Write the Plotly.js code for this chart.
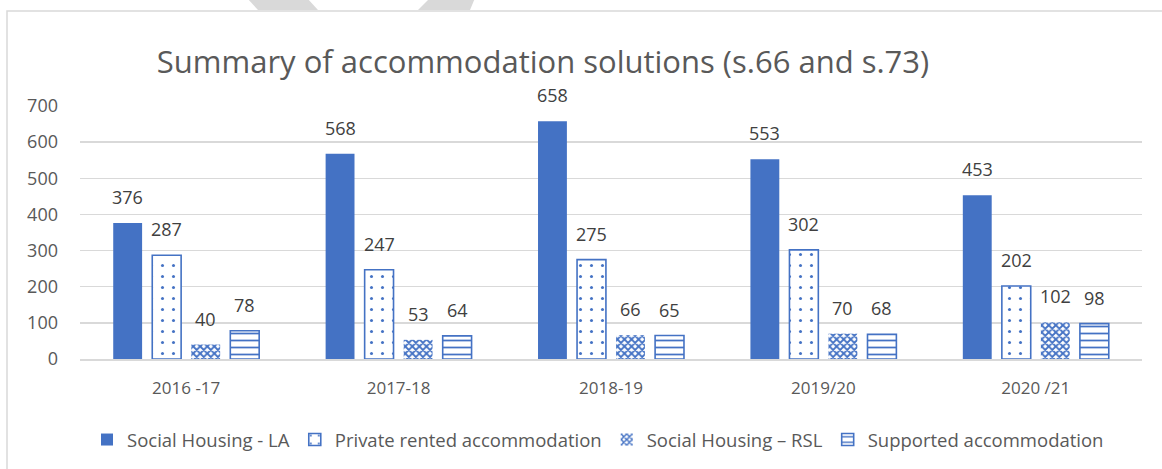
<!DOCTYPE html>
<html>
<head>
<meta charset="utf-8">
<script src="https://cdn.plot.ly/plotly-3.0.1.min.js"></script>
<style>html,body{margin:0;padding:0;background:#fff;}#chart{width:1162px;height:469px;}</style>
</head>
<body>
<div id="chart"></div>
<script>
const categories = ["2016 -17", "2017-18", "2018-19", "2019/20", "2020 /21"];
const seriesNames = ["Social Housing - LA", "Private rented accommodation", "Social Housing \u2013 RSL", "Supported accommodation"];
const socialHousingLA = [376, 568, 658, 553, 453];
const privateRented = [287, 247, 275, 302, 202];
const socialHousingRSL = [40, 53, 66, 70, 102];
const supported = [78, 64, 65, 68, 98];
const yTicks = [0, 100, 200, 300, 400, 500, 600, 700];

const BLUE = '#4472C4';
const seriesValues = [socialHousingLA, privateRented, socialHousingRSL, supported];
const markers = [
  {color: BLUE, line: {color: BLUE, width: 0}},
  {color: '#ffffff', line: {color: BLUE, width: 1.6}, pattern: {shape: '.', fgcolor: BLUE, bgcolor: '#ffffff', fgopacity: 1, size: 11, solidity: 0.06, fillmode: 'overlay'}},
  {color: '#ffffff', line: {color: BLUE, width: 0}, pattern: {shape: 'x', fgcolor: BLUE, bgcolor: '#ffffff', fgopacity: 1, size: 5, solidity: 0.6, fillmode: 'overlay'}},
  {color: '#ffffff', line: {color: BLUE, width: 1.6}, pattern: {shape: '-', fgcolor: BLUE, bgcolor: '#ffffff', fgopacity: 1, size: 7, solidity: 0.25, fillmode: 'overlay'}}
];

const traces = seriesValues.map((vals, i) => ({
  type: 'bar', name: seriesNames[i], x: categories, y: vals,
  marker: markers[i], hoverinfo: 'skip'
}));

// data labels as annotations above each bar
const slot = 39; // px per bar slot within a group
const annotations = [];
seriesValues.forEach((vals, i) => {
  vals.forEach((v, j) => {
    annotations.push({
      x: categories[j], y: v, xref: 'x', yref: 'y', text: String(v), showarrow: false,
      xanchor: 'center', yanchor: 'bottom', xshift: (i - 1.5) * slot, yshift: 12,
      font: {family: 'Open Sans, sans-serif', size: 18, color: '#404040'}
    });
  });
});

const px = v => (v - 80) / 1062;
const py = v => (359 - v) / 253;
const shapes = [
  {type: 'path', xref: 'paper', yref: 'paper', layer: 'below',
   path: `M ${px(247)} ${py(-2)} L ${px(307)} ${py(-2)} L ${px(318)} ${py(10)} L ${px(258)} ${py(10)} Z`,
   fillcolor: '#d9d9d9', line: {width: 0}},
  {type: 'path', xref: 'paper', yref: 'paper', layer: 'below',
   path: `M ${px(430)} ${py(-2)} L ${px(475)} ${py(-2)} L ${px(470)} ${py(10)} L ${px(418)} ${py(10)} Z`,
   fillcolor: '#d9d9d9', line: {width: 0}},
  {type: 'rect', xref: 'paper', yref: 'paper', layer: 'below',
   x0: px(7), x1: px(1175), y0: py(11), y1: py(490),
   fillcolor: 'rgba(0,0,0,0)', line: {color: '#d9d9d9', width: 1.5}}
];

const layout = {
  width: 1162, height: 469,
  margin: {l: 80, r: 20, t: 106, b: 110, autoexpand: false},
  paper_bgcolor: '#ffffff', plot_bgcolor: '#ffffff',
  font: {family: 'Open Sans, sans-serif', color: '#595959'},
  title: {text: 'Summary of accommodation solutions (s.66 and s.73)', xref: 'paper', x: px(543), xanchor: 'center',
          yref: 'container', y: 1 - 62 / 469, yanchor: 'middle',
          font: {family: 'Open Sans, sans-serif', size: 31, color: '#595959'}},
  barmode: 'group', bargap: 0.265, bargroupgap: 0.26,
  xaxis: {type: 'category', showgrid: false, showline: true, linecolor: '#d9d9d9', linewidth: 1.5,
          ticks: '', tickfont: {size: 17, color: '#595959'}, ticklabelstandoff: 13, fixedrange: true, automargin: false},
  yaxis: {range: [0, 700], tickvals: yTicks, showgrid: true, gridcolor: '#d9d9d9', gridwidth: 1.5,
          zeroline: false, showline: false, ticks: '', tickfont: {size: 18, color: '#595959'},
          ticklabelstandoff: 21, fixedrange: true, automargin: false},
  legend: {orientation: 'h', x: px(598), xanchor: 'center', y: py(440), yanchor: 'middle',
           font: {size: 18.5, color: '#595959'}, itemwidth: 30, traceorder: 'normal'},
  annotations: annotations,
  shapes: shapes,
  showlegend: true
};

Plotly.newPlot('chart', traces, layout, {displayModeBar: false, staticPlot: true});
</script>
</body>
</html>
